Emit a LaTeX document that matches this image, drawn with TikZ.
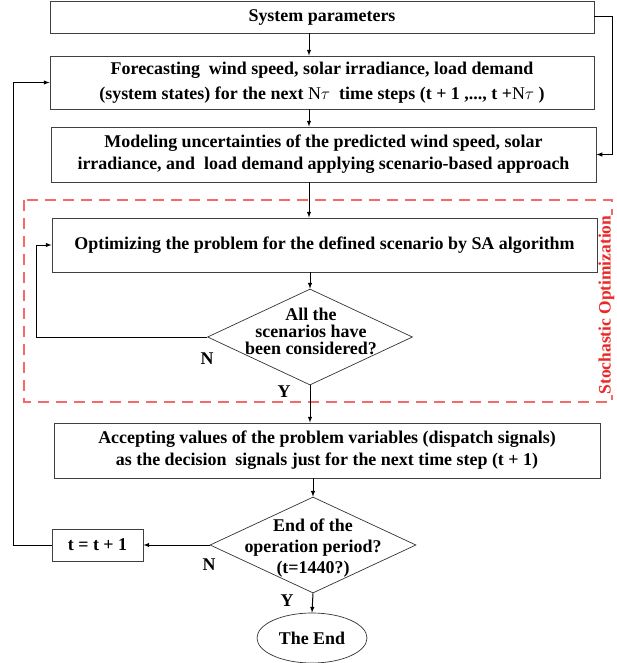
\documentclass[tikz,border=0pt]{standalone}
\usepackage{fontspec}
\setmainfont{Liberation Serif}
\usepackage{tikz}
\usetikzlibrary{arrows,shapes.geometric}
\definecolor{dashred}{RGB}{245,105,105}
\definecolor{lblred}{RGB}{235,40,40}
\newcommand{\flowfont}{\bfseries\fontsize{18}{22}\selectfont}
\tikzset{
  procbox/.style={draw=black!75, line width=0.9bp, rectangle, align=center, inner sep=2bp},
  decision/.style={draw=black!80, line width=0.7bp, diamond, inner sep=0pt},
  terminal/.style={draw=black!80, line width=0.7bp, ellipse, inner sep=0pt},
  flow/.style={-latex, line width=1bp},
  stochbox/.style={draw=dashred, line width=1.1bp, dash pattern=on 11bp off 7bp},
}

\begin{document}
\begin{tikzpicture}[x=1bp,y=-1bp,font=\flowfont]
\useasboundingbox (0,0) rectangle (617,663);
\coordinate (spine) at (309,0);
\coordinate (rfeed) at (612,0);
\coordinate (lfeed) at (13,0);
\coordinate (inloop) at (36,0); % side rails
\draw[stochbox] (24,200) rectangle (612,402);
\node[rotate=90, fill=white, text=lblred, inner sep=0.5bp, font=\bfseries\fontsize{17.5}{20}\selectfont] (stochlbl) at (606.5,305) {Stochastic Optimization};
\node[procbox, minimum width=544bp, minimum height=32bp] (sys) at (322,17) {System parameters};
\node[procbox, minimum width=544bp, minimum height=53bp, font=\bfseries\fontsize{18}{25}\selectfont] (fore) at (322,82.5) {Forecasting\ \ wind speed, solar irradiance, load demand\\(system states) for the next {\mdseries N}$\tau$\ \ time steps (t + 1 ,..., t +{\mdseries N}$\tau$ )};
\node[procbox, minimum width=545bp, minimum height=55bp] (model) at (323.5,154.5) {Modeling uncertainties of the predicted wind speed, solar\\irradiance, and\ \ load demand applying scenario-based approach};
\node[procbox, minimum width=545bp, minimum height=54bp] (optim) at (324.5,245) {Optimizing the problem for the defined scenario by SA algorithm};
\node[decision, minimum width=205bp, minimum height=96bp] (allsc) at (310,337) {};
\node[align=center, inner sep=0pt, font=\bfseries\fontsize{18}{17}\selectfont] (allsctxt) at (311,331) {All the\\scenarios have\\been considered?};
\node[procbox, minimum width=546bp, minimum height=55bp] (accept) at (327,450.5) {Accepting values of the problem variables (dispatch signals)\\as the decision\ \ signals just for the next time step (t + 1)};
\node[decision, minimum width=206bp, minimum height=96bp] (endop) at (313,545) {};
\node[align=center, inner sep=0pt, font=\bfseries\fontsize{18}{21}\selectfont] (endoptxt) at (313,548) {End of the\\operation period?\\(t=1440?)};
\node[procbox, minimum width=91bp, minimum height=32bp] (tinc) at (97.5,545) {t = t + 1};
\node[terminal, minimum width=110bp, minimum height=50bp] (theend) at (312,638) {The End};
\node (n1) at (207,359) {N};
\node (y1) at (284,392) {Y};
\node (n2) at (209,565) {N};
\node (y2) at (287,601) {Y}; % branch labels
\draw[flow] (sys.south -| spine) -- (fore.north -| spine);
\draw[flow] (fore.south -| spine) -- (model.north -| spine);
\draw[flow] (model.south -| spine) -- (optim.north -| spine);
\draw[flow] (optim.south -| allsc) -- (allsc.north);
\draw[flow] (allsc.south) -- (accept.north -| allsc.south);
\draw[flow] (accept.south -| endop) -- (endop.north);
\draw[flow] (endop.south) -- (theend.north);
\draw[flow] (endop.west) -- (tinc.east);
\draw[flow] (sys.east) -| (rfeed |- model.east) -- (model.east);
\draw[flow] (tinc.west) -| (lfeed |- fore.west) -- (fore.west);
\draw[flow] (allsc.west) -| (inloop |- optim.west) -- (optim.west); % loops
\end{tikzpicture}
\end{document}
